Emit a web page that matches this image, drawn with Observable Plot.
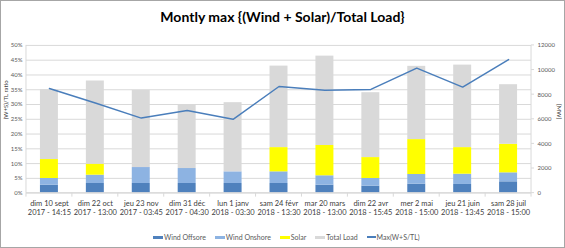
<!DOCTYPE html>
<html><head><meta charset="utf-8">
<script src="https://cdn.jsdelivr.net/npm/d3@7"></script>
<script src="https://cdn.jsdelivr.net/npm/@observablehq/plot@0.6"></script>
<style>
body{margin:0;background:#fff;font-family:Lato,"Open Sans",sans-serif;}
#chart{position:relative;width:565px;height:248px;box-sizing:border-box;border:1px solid #a6a6a6;overflow:hidden;background:#fff;}
#title{position:absolute;top:7px;left:0;width:100%;text-align:center;font-weight:bold;font-size:14px;color:#000;}
#plot{position:absolute;left:-1px;top:-1px;}
#legend{position:absolute;top:232px;left:152px;display:flex;gap:9px;font-size:7px;color:#595959;white-space:nowrap;}
.item{display:flex;align-items:center;gap:1px;}
.sw{width:10px;height:3px;display:inline-block;}
.ln{width:9px;height:1.5px;display:inline-block;}
</style>
</head><body>
<div id="chart"><div id="plot"></div><div id="title">Montly max {(Wind + Solar)/Total Load}</div><div id="legend"></div></div>
<script>
const dayLabels = ["dim 10 sept","dim 22 oct","jeu 23 nov","dim 31 déc","lun 1 janv","sam 24 févr","mar 20 mars","dim 22 avr","mer 2 mai","jeu 21 juin","sam 28 juil"];
const timeLabels = ["2017 - 14:15","2017 - 13:00","2017 - 03:45","2017 - 04:30","2018 - 03:30","2018 - 13:30","2018 - 13:00","2018 - 15:45","2018 - 15:00","2018 - 13:45","2018 - 15:00"];
const windOffshore = [650,785,785,785,785,785,650,570,730,705,920];
const windOnshore  = [540,675,1295,1215,945,945,760,620,785,835,730];
const solar        = [1540,890,0,0,0,1970,2460,1700,2835,2160,2320];
const totalLoad    = [5670,6760,6270,5135,5620,6620,7260,5270,5950,6700,4840];
const maxRatioPct  = [35.4,30.5,25.4,28.0,25.0,36.1,34.8,35.1,42.3,35.9,45.2];
const seriesNames  = ["Wind Offsore","Wind Onshore","Solar","Total Load"];
const seriesColors = ["#4f81bd","#8db3e2","#ffff00","#d9d9d9"];
const lineName = "Max(W+S/TL)";
const lineColor = "#4a7ebb";
const pctTicks = [0,5,10,15,20,25,30,35,40,45,50];
const mwTicks = [0,2000,4000,6000,8000,10000,12000];
const MW_MAX = 12000, PCT_MAX = 50;
const k = MW_MAX / PCT_MAX;

const categories = dayLabels.map((d,i) => d + "\n" + timeLabels[i]);
const seriesValues = [windOffshore, windOnshore, solar, totalLoad];
const table = [];
seriesNames.forEach((s, j) => categories.forEach((c, i) => table.push({cat: c, series: s, value: seriesValues[j][i]})));
const lineData = categories.map((c,i) => ({cat: c, v: maxRatioPct[i] * k}));

function decor(index, scales, values, dimensions) {
  const x = scales.x, y = scales.y;
  const {width, height, marginLeft, marginRight, marginTop, marginBottom} = dimensions;
  const g = d3.create("svg:g").attr("stroke", "#d9d9d9").attr("fill", "none");
  const x0 = marginLeft, x1 = width - marginRight, yb = y(0), yt = y(MW_MAX);
  const bw = typeof x.bandwidth === "function" ? x.bandwidth() : (x.bandwidth ?? 0);
  const centers = categories.map(c => x(c) + bw / 2);
  const bounds = [x0];
  for (let i = 0; i < centers.length - 1; i++) bounds.push((centers[i] + centers[i+1]) / 2);
  bounds.push(x1);
  g.append("line").attr("x1", x0).attr("x2", x1).attr("y1", yb).attr("y2", yb);
  g.append("line").attr("x1", x0).attr("x2", x0).attr("y1", yt).attr("y2", yb);
  g.append("line").attr("x1", x1).attr("x2", x1).attr("y1", yt).attr("y2", yb);
  for (const b of bounds) g.append("line").attr("x1", b).attr("x2", b).attr("y1", yb).attr("y2", yb + 4);
  for (const t of mwTicks) g.append("line").attr("x1", x1).attr("x2", x1 + 3).attr("y1", y(t)).attr("y2", y(t));
  return g.node();
}

const plot = Plot.plot({
  width: 565, height: 248,
  marginTop: 45, marginBottom: 55, marginLeft: 26, marginRight: 33,
  style: {fontFamily: "Lato, 'Open Sans', sans-serif", background: "transparent"},
  x: {domain: categories, paddingInner: 0.6, paddingOuter: 0.3, axis: null},
  y: {domain: [0, MW_MAX], axis: null},
  color: {domain: seriesNames, range: seriesColors},
  marks: [
    Plot.ruleY(pctTicks.map(p => p * k), {stroke: "#d9d9d9", strokeWidth: 1}),
    Plot.barY(table, {x: "cat", y: "value", fill: "series", order: seriesNames}),
    decor,
    Plot.line(lineData, {x: "cat", y: "v", stroke: lineColor, strokeWidth: 1.5}),
    Plot.axisY(pctTicks.map(p => p * k), {anchor: "left", tickSize: 0, tickPadding: 4, fontSize: 6, color: "#595959", tickFormat: d => Math.round(d / k) + "%", label: null}),
    Plot.axisY(mwTicks, {anchor: "right", tickSize: 0, tickPadding: 6, fontSize: 6, color: "#595959", tickFormat: d => String(d), label: null}),
    Plot.axisX({tickSize: 0, tickPadding: 6, fontSize: 7.5, color: "#404040", lineHeight: 1.25, label: null}),
    Plot.text(["(W+S)/TL ratio"], {frameAnchor: "left", rotate: -90, dx: -20, fontSize: 6, fill: "#404040"}),
    Plot.text(["[MW]"], {frameAnchor: "right", rotate: 90, dx: 27, fontSize: 6, fill: "#404040"})
  ]
});
document.getElementById("plot").appendChild(plot);

const legend = document.getElementById("legend");
seriesNames.forEach((s, i) => {
  const it = document.createElement("span"); it.className = "item";
  it.innerHTML = `<span class="sw" style="background:${seriesColors[i]}"></span><span>${s}</span>`;
  legend.appendChild(it);
});
const li = document.createElement("span"); li.className = "item";
li.innerHTML = `<span class="ln" style="background:${lineColor}"></span><span>${lineName}</span>`;
legend.appendChild(li);
</script>
</body></html>
